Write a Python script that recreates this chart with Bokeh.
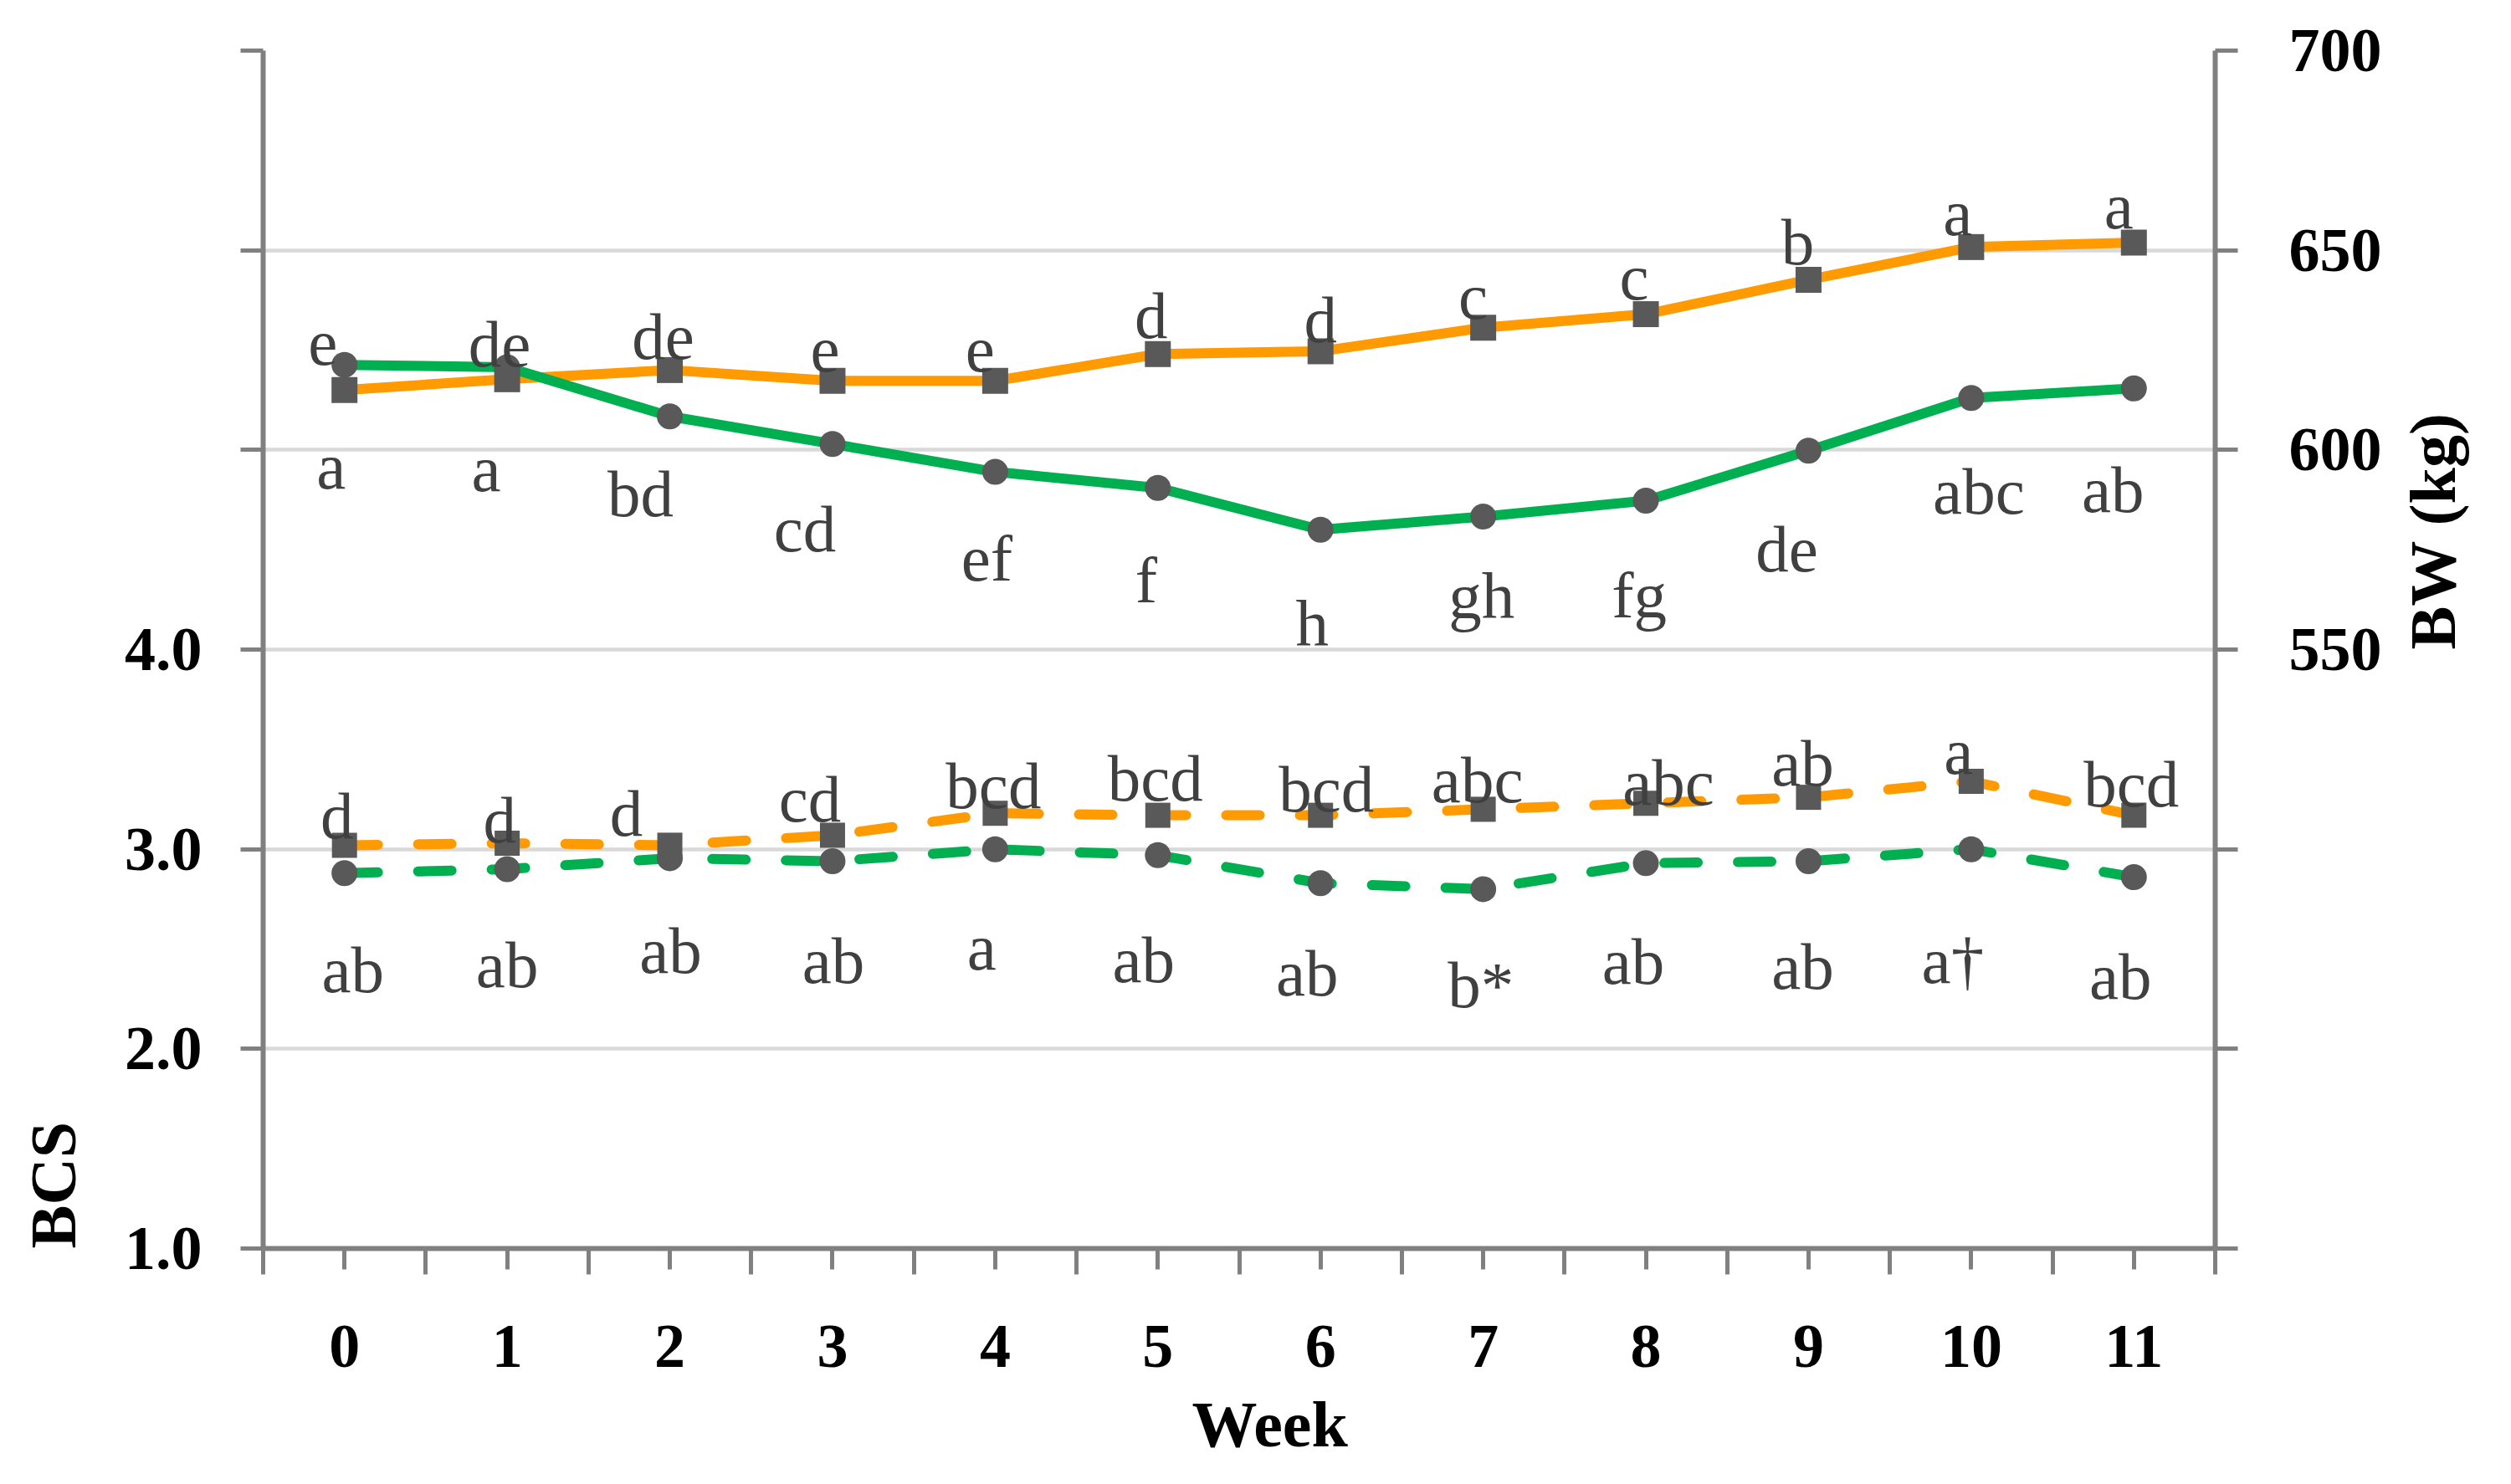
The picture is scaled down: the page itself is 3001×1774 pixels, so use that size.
import math
from bokeh.plotting import figure
from bokeh.models import Range1d, LinearAxis, FixedTicker, CustomJSTickFormatter, Title
from bokeh.embed import file_html
from bokeh.resources import INLINE
from bokeh.core.properties import value

# ---- data ----
weeks = list(range(12))
week_ticks = [str(w) for w in weeks]

bw_orange = [615.0, 617.7, 620.0, 617.3, 617.3, 624.0, 624.7, 630.6, 634.0, 642.6, 650.8, 651.9]
bw_green = [621.3, 620.7, 608.4, 601.5, 594.5, 590.5, 580.0, 583.3, 587.3, 599.8, 613.0, 615.4]
bcs_orange = [3.02, 3.03, 3.02, 3.07, 3.18, 3.17, 3.17, 3.20, 3.23, 3.26, 3.34, 3.17]
bcs_green = [2.88, 2.90, 2.955, 2.94, 3.00, 2.97, 2.83, 2.80, 2.93, 2.94, 3.00, 2.86]

bw_orange_labels = ["e", "de", "de", "e", "e", "d", "d", "c", "c", "b", "a", "a"]
bw_green_labels = ["a", "a", "bd", "cd", "ef", "f", "h", "gh", "fg", "de", "abc", "ab"]
bcs_orange_labels = ["d", "d", "d", "cd", "bcd", "bcd", "bcd", "abc", "abc", "ab", "a", "bcd"]
bcs_green_labels = ["ab", "ab", "ab", "ab", "a", "ab", "ab", "b*", "ab", "ab", "a\u2020", "ab"]

bcs_ticks = [1, 2, 3, 4, 5, 6, 7]
bw_ticks = [400, 450, 500, 550, 600, 650, 700]

# ---- label placement (pixel nudges, as in the reference) ----
bw_orange_dx = [-26, -9, -8, -9, -18, -8, 0, -12, -14, -13, -16, -18]
bw_orange_dy = [-56, -42, -40, -37, -37, -46, -37, -37, -44, -45, -41, -44]
bw_green_dx = [-16, -25, -35, -33, -10, -14, -10, -2, -8, -26, 9, -25]
bw_green_dy = [121, 121, 93, 102, 103, 110, 112, 95, 113, 118, 112, 121]
bcs_orange_dx = [-9, -9, -52, -27, -2, -3, 7, -7, 27, -7, -15, -3]
bcs_orange_dy = [-35, -28, -38, -43, -33, -44, -31, -35, -25, -41, -36, -37]
bcs_green_dx = [10, 0, 1, 1, -16, -17, -16, -3, -15, -7, -22, -16]
bcs_green_dy = [116, 114, 111, 119, 117, 125, 108, 115, 118, 126, 133, 119]

# ---- styles ----
ORANGE = "#FF9A00"
GREEN = "#00B050"
MARK = "#595959"
LBL = "#404040"
AX = "#808080"
FONT = "Liberation Serif"

p = figure(width=2997, height=1766,
           x_range=Range1d(-0.5, 11.5), y_range=Range1d(1, 7),
           output_backend="svg", toolbar_location=None,
           min_border_left=314, min_border_right=350,
           min_border_top=60, min_border_bottom=274)
p.outline_line_color = None
p.background_fill_color = "white"
p.xgrid.visible = False
p.extra_y_ranges = {"bw": Range1d(400, 700)}

def style_axis(ax, standoff):
    ax.axis_line_color = AX
    ax.axis_line_width = 6
    ax.major_tick_line_color = AX
    ax.major_tick_line_width = 5
    ax.major_tick_in = 0
    ax.minor_tick_line_color = AX
    ax.minor_tick_line_width = 5
    ax.minor_tick_in = 0
    ax.major_label_text_font = FONT
    ax.major_label_text_font_style = "bold"
    ax.major_label_text_font_size = "74px"
    ax.major_label_text_color = "black"
    ax.major_label_standoff = standoff
    ax.axis_label_text_font = FONT
    ax.axis_label_text_font_style = "bold"
    ax.axis_label_text_font_size = "78px"
    ax.axis_label_text_color = "black"

# x axis
xa = p.xaxis[0]
xa.ticker = FixedTicker(ticks=weeks, minor_ticks=[w - 0.5 for w in weeks] + [11.5])
xa.major_label_overrides = {w: t for w, t in zip(weeks, week_ticks)}
style_axis(xa, 61)
xa.major_tick_out = 25
xa.minor_tick_out = 31

# left axis (BCS)
ya = p.yaxis[0]
ya.ticker = FixedTicker(ticks=bcs_ticks)
ya.formatter = CustomJSTickFormatter(code="return tick <= 4 ? tick.toFixed(1) : '';")
style_axis(ya, 46)
ya.major_tick_out = 27
ya.minor_tick_out = 0
# blank spacer so that the "BCS" title sits at the reference distance
ya.axis_label = " "
ya.axis_label_text_font_size = "2px"
ya.axis_label_standoff = 33

# right axis (BW)
ra = LinearAxis(y_range_name="bw", ticker=FixedTicker(ticks=bw_ticks),
                formatter=CustomJSTickFormatter(code="return tick >= 550 ? tick.toFixed(0) : '';"))
style_axis(ra, 61)
ra.major_tick_out = 27
ra.minor_tick_out = 0
ra.axis_label = "BW (kg)"
ra.axis_label_standoff = 58
ra.axis_label_orientation = math.pi / 2
ra.axis_label_text_align = "left"
p.add_layout(ra, "right")

p.ygrid.grid_line_color = "#D9D9D9"
p.ygrid.grid_line_width = 4.5

# lines
p.line(weeks, bw_orange, y_range_name="bw", line_color=ORANGE, line_width=12)
p.line(weeks, bw_green, y_range_name="bw", line_color=GREEN, line_width=12)
p.line(weeks, bcs_orange, line_color=ORANGE, line_width=12, line_dash="40 48", line_cap="round")
p.line(weeks, bcs_green, line_color=GREEN, line_width=12, line_dash="40 48", line_cap="round")

# markers
p.scatter(weeks, bw_orange, y_range_name="bw", marker="square", size=31, fill_color=MARK, line_color=None)
p.scatter(weeks, bw_green, y_range_name="bw", marker="circle", size=31, fill_color=MARK, line_color=None)
p.scatter(weeks, bcs_orange, marker="square", size=30, fill_color=MARK, line_color=None)
p.scatter(weeks, bcs_green, marker="circle", size=31, fill_color=MARK, line_color=None)

# data labels
common = dict(text_align="center", text_baseline="alphabetic", text_font=value(FONT),
              text_font_size="79px", text_color=LBL)
p.text(weeks, bw_orange, text=bw_orange_labels, y_range_name="bw",
       x_offset=bw_orange_dx, y_offset=bw_orange_dy, **common)
p.text(weeks, bw_green, text=bw_green_labels, y_range_name="bw",
       x_offset=bw_green_dx, y_offset=bw_green_dy, **common)
p.text(weeks, bcs_orange, text=bcs_orange_labels,
       x_offset=bcs_orange_dx, y_offset=bcs_orange_dy, **common)
p.text(weeks, bcs_green, text=bcs_green_labels,
       x_offset=bcs_green_dx, y_offset=bcs_green_dy, **common)

# axis titles
tstyle = dict(text_font=FONT, text_font_style="bold", text_font_size="78px", text_color="black")
p.add_layout(Title(text="Week", align="left", offset=1110, standoff=40, **tstyle), "below")
p.add_layout(Title(text="BCS", align="left", offset=0, standoff=2, **tstyle), "left")

open("out.html", "w").write(file_html(p, INLINE))
